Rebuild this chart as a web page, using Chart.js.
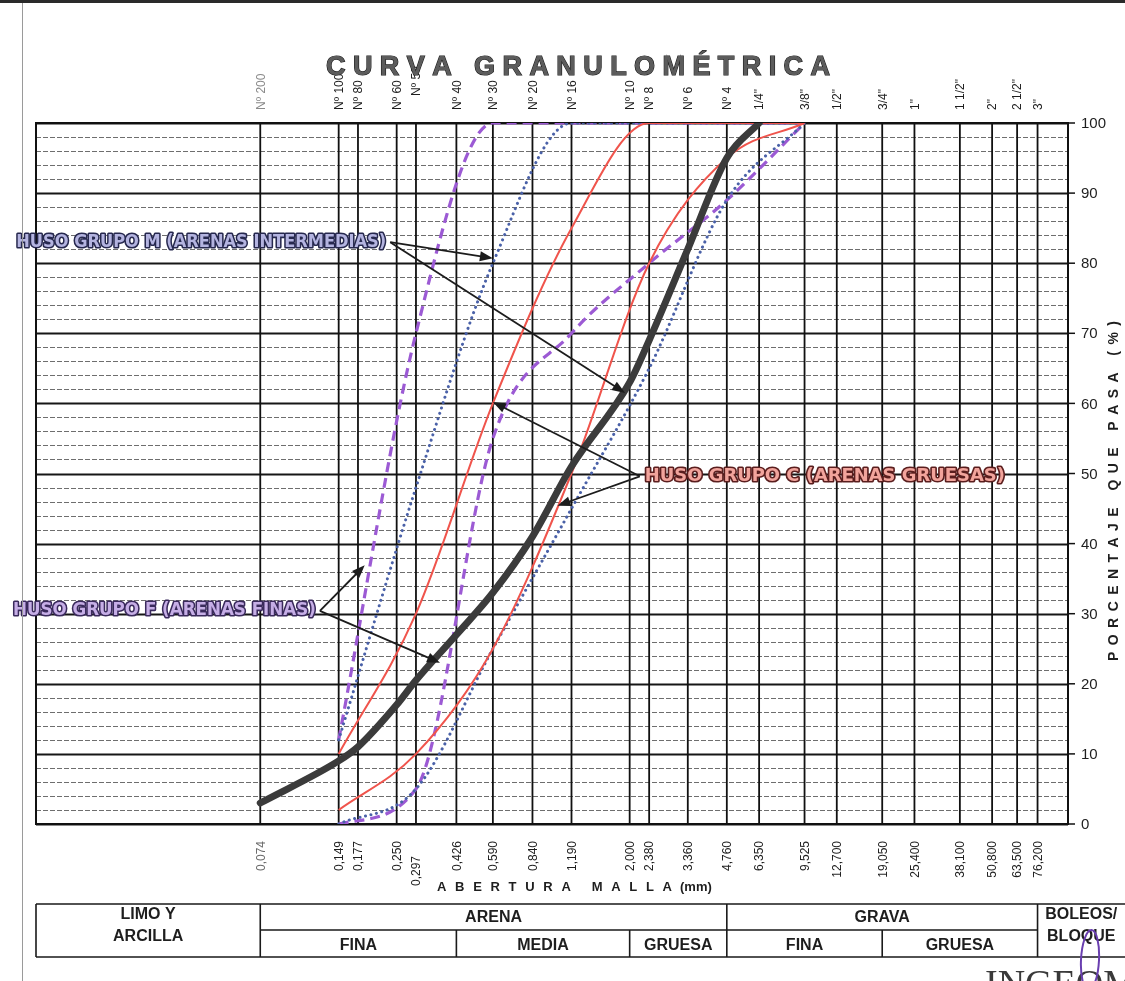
<!DOCTYPE html>
<html><head><meta charset="utf-8">
<script src="https://cdn.jsdelivr.net/npm/chart.js@4.4.0/dist/chart.umd.min.js"></script>
<style>html,body{margin:0;padding:0;background:#fff;}canvas{display:block}</style>
</head><body>
<canvas id="c" width="1125" height="981"></canvas>
<script>
// ---------- DATA ----------
const sieveMm = [0.074, 0.149, 0.177, 0.250, 0.297, 0.426, 0.590, 0.840, 1.190, 2.000, 2.380, 3.360, 4.760, 6.350, 9.525, 12.700, 19.050, 25.400, 38.100, 50.800, 63.500, 76.200];
const sieveNames = ["Nº 200","Nº 100","Nº 80","Nº 60","Nº 50","Nº 40","Nº 30","Nº 20","Nº 16","Nº 10","Nº 8","Nº 6","Nº 4","1/4\"","3/8\"","1/2\"","3/4\"","1\"","1 1/2\"","2\"","2 1/2\"","3\""];
const sieveLabels = ["0,074","0,149","0,177","0,250","0,297","0,426","0,590","0,840","1,190","2,000","2,380","3,360","4,760","6,350","9,525","12,700","19,050","25,400","38,100","50,800","63,500","76,200"];
const yTicks = [0,10,20,30,40,50,60,70,80,90,100];

const husoSieves = [0.149, 0.297, 0.590, 1.190, 2.380, 4.760, 9.525];
const husoFUpper = [12, 70, 100, 100, 100, 100, 100];
const husoFLower = [0, 5, 55, 70, 80, 89, 100];
const husoMUpper = [12, 48, 80, 100, 100, 100, 100];
const husoMLower = [0, 5, 25, 45, 65, 89, 100];
const husoCUpper = [10, 30, 60, 85, 100, 100, 100];
const husoCLower = [2, 10, 25, 50, 80, 95, 100];

const sampleMm   = [0.074, 0.149, 0.177, 0.250, 0.297, 0.426, 0.590, 0.840, 1.190, 2.000, 2.380, 3.360, 4.760, 6.350];
const samplePass = [3, 9, 11, 17, 20.5, 27, 33, 41, 51, 63, 69, 82, 95, 100];

// soil classification bands (limits in mm)
const zoneTop = [
  {text:["LIMO Y","ARCILLA"], from:0.01, to:0.074, full:true},
  {text:["ARENA"], from:0.074, to:4.76},
  {text:["GRAVA"], from:4.76, to:76.2},
  {text:["BOLEOS/","BLOQUE"], from:76.2, to:null, full:true}
];
const zoneSub = [
  {text:"FINA", from:0.074, to:0.426},
  {text:"MEDIA", from:0.426, to:2.0},
  {text:"GRUESA", from:2.0, to:4.76},
  {text:"FINA", from:4.76, to:19.05},
  {text:"GRUESA", from:19.05, to:76.2}
];

// annotations (anchor = end of label where arrows start; tips in data coords)
const notes = [
  {text:"HUSO GRUPO M (ARENAS INTERMEDIAS)", anchor:[0.236, 83], side:"right", width:370, fill:"#b4b4e0", stroke:"#26284e", tips:[[0.59, 80.7],[1.92, 61.5]]},
  {text:"HUSO GRUPO C (ARENAS GRUESAS)", anchor:[2.19, 49.6], side:"left", width:360, fill:"#f2a49c", stroke:"#5a1e1e", tips:[[0.59, 60.2],[1.05, 45.4]]},
  {text:"HUSO GRUPO F (ARENAS FINAS)", anchor:[0.126, 30.4], side:"right", width:303, fill:"#c6aee6", stroke:"#3a2a5c", tips:[[0.188, 36.9],[0.368, 23.0]]}
];

const FONT = "'Liberation Sans', Arial, sans-serif";
const pts = (xs, ys) => xs.map((x, i) => ({x, y: ys[i]}));

function spaced(ctx, text, x0, x1, y, stroke) {
  const chars = [...text];
  const w = chars.map(c => ctx.measureText(c).width);
  const sum = w.reduce((a, b) => a + b, 0);
  const sp = (x1 - x0 - sum) / (chars.length - 1);
  let x = x0;
  ctx.textAlign = 'left';
  chars.forEach((c, i) => {
    if (stroke) ctx.strokeText(c, x, y);
    ctx.fillText(c, x, y);
    x += w[i] + sp;
  });
}

function arrow(ctx, x0, y0, x1, y1) {
  const ang = Math.atan2(y1 - y0, x1 - x0);
  const L = 13, W = 5;
  ctx.beginPath();
  ctx.moveTo(x0, y0);
  ctx.lineTo(x1 - L * Math.cos(ang) * 0.8, y1 - L * Math.sin(ang) * 0.8);
  ctx.stroke();
  ctx.beginPath();
  ctx.moveTo(x1, y1);
  ctx.lineTo(x1 - L * Math.cos(ang) + W * Math.sin(ang), y1 - L * Math.sin(ang) - W * Math.cos(ang));
  ctx.lineTo(x1 - L * Math.cos(ang) - W * Math.sin(ang), y1 - L * Math.sin(ang) + W * Math.cos(ang));
  ctx.closePath();
  ctx.fill();
}

const paper = {
  id: 'paper',
  beforeDraw(chart) {
    const ctx = chart.ctx;
    ctx.save();
    ctx.fillStyle = '#fff';
    ctx.fillRect(0, 0, chart.width, chart.height);
    ctx.restore();
  },
  beforeDatasetsDraw(chart) {
    const ctx = chart.ctx, xs = chart.scales.x, ys = chart.scales.y, a = chart.chartArea;
    ctx.save();
    // horizontal grid every 2 %, bold every 10 %
    for (let v = 0; v <= 100; v += 2) {
      const y = Math.round(ys.getPixelForValue(v)) + 0.5;
      const major = v % 10 === 0;
      ctx.beginPath();
      ctx.setLineDash(major ? [] : [5, 2]);
      ctx.strokeStyle = major ? '#161616' : '#6e6e6e';
      ctx.lineWidth = major ? 2 : 1;
      ctx.moveTo(a.left, y); ctx.lineTo(a.right, y);
      ctx.stroke();
    }
    ctx.setLineDash([]);
    // vertical sieve lines
    ctx.strokeStyle = '#111';
    ctx.lineWidth = 1.8;
    sieveMm.forEach(v => {
      const x = xs.getPixelForValue(v);
      ctx.beginPath(); ctx.moveTo(x, a.top); ctx.lineTo(x, a.bottom); ctx.stroke();
    });
    // plot frame
    ctx.lineWidth = 2;
    ctx.strokeRect(a.left, a.top, a.right - a.left, a.bottom - a.top);
    ctx.restore();
  },
  afterDatasetsDraw(chart) {
    const ctx = chart.ctx, xs = chart.scales.x, ys = chart.scales.y, a = chart.chartArea;
    ctx.save();
    // right axis ticks + labels
    ctx.strokeStyle = '#111'; ctx.lineWidth = 1.5;
    ctx.fillStyle = '#1e1e1e';
    ctx.font = '15px ' + FONT;
    ctx.textBaseline = 'middle'; ctx.textAlign = 'left';
    yTicks.forEach(v => {
      const y = ys.getPixelForValue(v);
      ctx.beginPath(); ctx.moveTo(a.right, y); ctx.lineTo(a.right + 7, y); ctx.stroke();
      ctx.fillText(String(v), a.right + 13, y + 1);
    });
    // top sieve names
    ctx.font = '12px ' + FONT;
    sieveMm.forEach((v, i) => {
      const x = xs.getPixelForValue(v);
      ctx.save();
      ctx.translate(x + 1, a.top - 13 - (i === 4 ? 14 : 0));
      ctx.rotate(-Math.PI / 2);
      ctx.textAlign = 'left'; ctx.textBaseline = 'middle';
      ctx.fillStyle = i === 0 ? '#8a8a8a' : '#1e1e1e';
      ctx.fillText(sieveNames[i], 0, 0);
      ctx.restore();
    });
    // bottom sieve openings
    sieveMm.forEach((v, i) => {
      const x = xs.getPixelForValue(v);
      ctx.save();
      ctx.translate(x + 1, a.bottom + 17 + (i === 4 ? 15 : 0));
      ctx.rotate(-Math.PI / 2);
      ctx.textAlign = 'right'; ctx.textBaseline = 'middle';
      ctx.fillStyle = i === 0 ? '#6a6a6a' : '#1e1e1e';
      ctx.fillText(sieveLabels[i], 0, 0);
      ctx.restore();
    });
    // title
    ctx.textBaseline = 'alphabetic';
    ctx.font = 'bold 27px ' + FONT;
    ctx.fillStyle = '#5c5c5c'; ctx.strokeStyle = '#1a1a1a'; ctx.lineWidth = 1.2;
    spaced(ctx, 'CURVA GRANULOMÉTRICA', 326, 830, 75, true);
    // x title
    ctx.fillStyle = '#1e1e1e';
    ctx.font = 'bold 13px ' + FONT;
    spaced(ctx, 'ABERTURA MALLA', 437, 672, 891, false);
    ctx.textAlign = 'left';
    ctx.fillText('(mm)', 680, 891);
    // y title (right)
    ctx.save();
    ctx.translate(1118, 491);
    ctx.rotate(-Math.PI / 2);
    ctx.font = 'bold 14px ' + FONT;
    spaced(ctx, 'PORCENTAJE QUE PASA (%)', -170, 170, 0, false);
    ctx.restore();

    // annotations
    notes.forEach(n => {
      const ax = xs.getPixelForValue(n.anchor[0]), ay = ys.getPixelForValue(n.anchor[1]);
      ctx.strokeStyle = '#1c1c1c'; ctx.fillStyle = '#1c1c1c'; ctx.lineWidth = 1.8;
      n.tips.forEach(t => arrow(ctx, ax, ay, xs.getPixelForValue(t[0]), ys.getPixelForValue(t[1])));
      ctx.font = 'bold 17px "DejaVu Sans", sans-serif';
      ctx.textBaseline = 'middle'; ctx.textAlign = 'left';
      const m = ctx.measureText(n.text).width;
      const sx = n.width / m;
      const x0 = n.side === 'right' ? ax - 4 - n.width : ax + 5;
      ctx.save();
      ctx.translate(x0, ay);
      ctx.scale(sx, 1);
      ctx.lineJoin = 'round';
      ctx.lineWidth = 3.2; ctx.strokeStyle = n.stroke;
      ctx.strokeText(n.text, 0, 0);
      ctx.fillStyle = n.fill;
      ctx.fillText(n.text, 0, 0);
      ctx.restore();
    });

    // classification table
    const tTop = 904, tMid = 930, tBot = 957, right = 1125;
    const px = v => v === null ? right : (v <= 0.01 ? a.left : xs.getPixelForValue(v));
    ctx.strokeStyle = '#1a1a1a'; ctx.lineWidth = 1.6;
    ctx.beginPath();
    ctx.moveTo(a.left, tTop); ctx.lineTo(right, tTop);
    ctx.moveTo(a.left, tBot); ctx.lineTo(right, tBot);
    ctx.moveTo(px(0.074), tMid); ctx.lineTo(px(76.2), tMid);
    ctx.moveTo(a.left, tTop); ctx.lineTo(a.left, tBot);
    zoneTop.forEach(z => { if (z.to !== null) { ctx.moveTo(px(z.to), tTop); ctx.lineTo(px(z.to), tBot); } });
    zoneSub.forEach(z => { ctx.moveTo(px(z.to), tMid); ctx.lineTo(px(z.to), tBot); });
    ctx.stroke();
    ctx.fillStyle = '#1e1e1e';
    ctx.font = 'bold 16px ' + FONT;
    ctx.textAlign = 'center'; ctx.textBaseline = 'middle';
    zoneTop.forEach(z => {
      const cx = (px(z.from) + px(z.to)) / 2;
      if (z.full) {
        ctx.fillText(z.text[0], cx, tTop + 11);
        ctx.fillText(z.text[1], cx, tTop + 33);
      } else {
        ctx.fillText(z.text[0], cx, (tTop + tMid) / 2 + 1);
      }
    });
    zoneSub.forEach(z => {
      ctx.fillText(z.text, (px(z.from) + px(z.to)) / 2, (tMid + tBot) / 2 + 2);
    });

    // page frame & stamp
    ctx.fillStyle = '#2a2a2a';
    ctx.fillRect(0, 0, 1125, 3);
    ctx.strokeStyle = '#9a9a9a'; ctx.lineWidth = 1;
    ctx.beginPath(); ctx.moveTo(22.5, 3); ctx.lineTo(22.5, 981); ctx.stroke();
    ctx.font = '38px "Liberation Serif", serif';
    ctx.fillStyle = '#3a3a3a'; ctx.textAlign = 'left'; ctx.textBaseline = 'alphabetic';
    ctx.fillText('INGEOM', 985, 996);
    ctx.strokeStyle = '#6a3fb0'; ctx.lineWidth = 2;
    ctx.beginPath(); ctx.ellipse(1090, 960, 9, 30, 0.05, 0, Math.PI * 2); ctx.stroke();
    ctx.restore();
  }
};

const lineDs = (label, xsArr, ysArr, style) => Object.assign({
  label, data: pts(xsArr, ysArr), showLine: true, pointRadius: 0,
  cubicInterpolationMode: 'monotone', fill: false
}, style);

new Chart(document.getElementById('c'), {
  type: 'scatter',
  data: {
    datasets: [
      lineDs('Muestra', sampleMm, samplePass, {borderColor: '#3b3b3b', borderWidth: 7, borderCapStyle: 'round'}),
      lineDs('Huso C sup', husoSieves, husoCUpper, {borderColor: '#f0544c', borderWidth: 2}),
      lineDs('Huso C inf', husoSieves, husoCLower, {borderColor: '#f0544c', borderWidth: 2}),
      lineDs('Huso M sup', husoSieves, husoMUpper, {borderColor: '#4a61a8', borderWidth: 3, borderDash: [0.1, 5.5], borderCapStyle: 'round'}),
      lineDs('Huso M inf', husoSieves, husoMLower, {borderColor: '#4a61a8', borderWidth: 3, borderDash: [0.1, 5.5], borderCapStyle: 'round'}),
      lineDs('Huso F sup', husoSieves, husoFUpper, {borderColor: '#9c5ad4', borderWidth: 3.2, borderDash: [10, 6]}),
      lineDs('Huso F inf', husoSieves, husoFLower, {borderColor: '#9c5ad4', borderWidth: 3.2, borderDash: [10, 6]})
    ]
  },
  options: {
    responsive: false, animation: false, devicePixelRatio: 1,
    layout: {padding: {left: 36, top: 123, right: 57, bottom: 157}},
    plugins: {legend: {display: false}, tooltip: {enabled: false}},
    scales: {
      x: {type: 'logarithmic', min: 0.01, max: 100, display: false},
      y: {type: 'linear', min: 0, max: 100, display: false}
    }
  },
  plugins: [paper]
});
</script>
</body></html>
